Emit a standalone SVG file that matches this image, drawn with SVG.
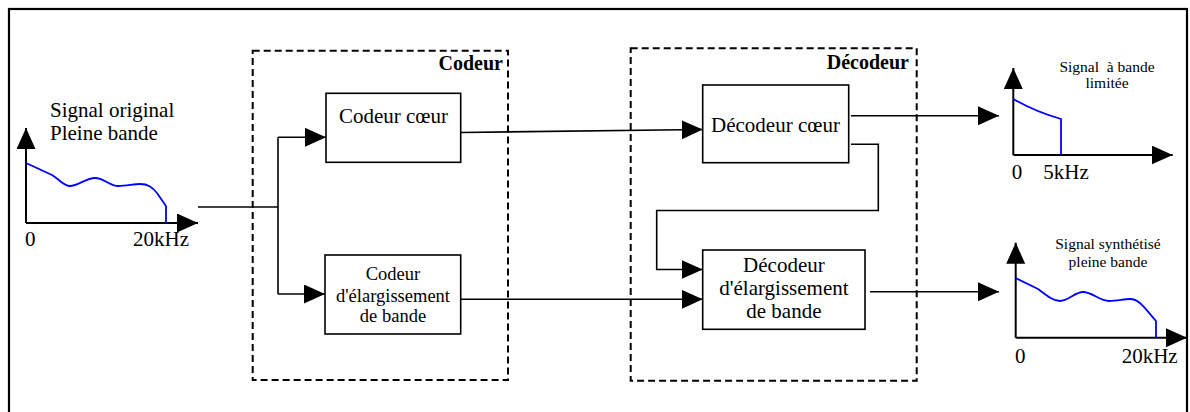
<svg xmlns="http://www.w3.org/2000/svg" width="1190" height="412" viewBox="0 0 1190 412" font-family="'Liberation Serif', 'DejaVu Serif', serif">
<style>
text{font-family:'Liberation Serif','DejaVu Serif',serif;fill:#000}
.t{font-size:21px}
.s{font-size:18.5px}
.xs{font-size:15.5px}
.b{font-size:20px;font-weight:bold}
.box{fill:#fff;stroke:#000;stroke-width:1.6}
.grp{fill:none;stroke:#000;stroke-width:2;stroke-dasharray:7,4}
.ln{fill:none;stroke:#000;stroke-width:1.6}
.ax{fill:none;stroke:#000;stroke-width:2}
.sig{fill:none;stroke:#0000ff;stroke-width:1.8}
</style>
<defs>
<marker id="ar" markerUnits="userSpaceOnUse" markerWidth="22" markerHeight="20" refX="21" refY="9.5" orient="auto">
<path d="M0,0 L21,9.5 L0,19 z" fill="#000"/>
</marker>
</defs>
<rect x="9" y="9" width="1178" height="420" fill="none" stroke="#000" stroke-width="2.2"/>

<g id="spectre-entree">
<line class="ax" x1="26" y1="223" x2="26" y2="128" marker-end="url(#ar)"/>
<line class="ax" x1="26" y1="223" x2="198" y2="223" marker-end="url(#ar)"/>
<path class="sig" d="M26,163 L52,175 C60,180 64,186 70,186 C78,186 86,178 95,178 C104,178 110,186 118,186 C126,186 134,184 140,184 C148,184 152,187 157,193 L166,206 L166,223"/>
<text class="t" x="50" y="117">Signal original</text>
<text class="t" x="50" y="140">Pleine bande</text>
<text class="t" x="25" y="246">0</text>
<text class="t" x="133" y="246">20kHz</text>
</g>

<g id="codeur">
<rect class="grp" x="252.7" y="50.7" width="255.3" height="329.3"/>
<text class="b" x="503" y="70" text-anchor="end">Codeur</text>
</g>
<g id="codeur-coeur">
<rect class="box" x="326" y="93.3" width="134.7" height="69"/>
<text class="t" x="393.5" y="123" text-anchor="middle">Codeur cœur</text>
</g>
<g id="codeur-elargissement">
<rect class="box" x="325" y="255" width="135.7" height="79"/>
<text class="s" x="393" y="280" text-anchor="middle">Codeur</text>
<text class="s" x="393" y="301.5" text-anchor="middle">d'élargissement</text>
<text class="s" x="393" y="322" text-anchor="middle">de bande</text>
</g>

<g id="decodeur">
<rect class="grp" x="630.7" y="48.3" width="286" height="332.4"/>
<text class="b" x="909" y="69" text-anchor="end">Décodeur</text>
</g>
<g id="decodeur-coeur">
<rect class="box" x="702.7" y="85" width="146" height="77.7"/>
<text class="t" x="775.5" y="131.5" text-anchor="middle">Décodeur cœur</text>
</g>
<g id="decodeur-elargissement">
<rect class="box" x="702.7" y="250" width="162.3" height="79.3"/>
<text class="t" x="783.9" y="271.7" text-anchor="middle">Décodeur</text>
<text class="t" x="783.9" y="295" text-anchor="middle">d'élargissement</text>
<text class="t" x="783.9" y="318.3" text-anchor="middle">de bande</text>
</g>

<g id="spectre-limite">
<line class="ax" x1="1013.3" y1="155" x2="1013.3" y2="68" marker-end="url(#ar)"/>
<line class="ax" x1="1013.3" y1="155" x2="1172.7" y2="155" marker-end="url(#ar)"/>
<path class="sig" d="M1013.3,99 Q1036,112 1061,119 L1061,155"/>
<text class="xs" x="1107" y="71.7" text-anchor="middle" style="white-space:pre">Signal  à bande</text>
<text class="xs" x="1107" y="88.3" text-anchor="middle">limitée</text>
<text class="t" x="1011.7" y="179.3">0</text>
<text class="t" x="1043.3" y="179.3">5kHz</text>
</g>

<g id="spectre-synthetise">
<line class="ax" x1="1015.7" y1="337.7" x2="1015.7" y2="242.7" marker-end="url(#ar)"/>
<line class="ax" x1="1015.7" y1="337.7" x2="1187" y2="337.7" marker-end="url(#ar)"/>
<path class="sig" d="M1015.7,278 L1038,289 C1046,295 1053,301 1060,301 C1068,301 1075,292 1083,292 C1092,292 1100,301 1109,301 C1117,301 1124,299 1130,299 C1140,299 1146,310 1156,321 L1156,337.7"/>
<text class="xs" x="1108" y="249.3" text-anchor="middle">Signal synthétisé</text>
<text class="xs" x="1108" y="266.7" text-anchor="middle">pleine bande</text>
<text class="t" x="1015" y="362.7">0</text>
<text class="t" x="1121.7" y="362.7">20kHz</text>
</g>

<g id="connecteurs">
<polyline class="ln" points="198,207 278,207"/>
<polyline class="ln" points="278,137.3 278,294"/>
<line class="ln" x1="278" y1="137.3" x2="326" y2="137.3" marker-end="url(#ar)"/>
<line class="ln" x1="278" y1="294" x2="325" y2="294" marker-end="url(#ar)"/>
<line class="ln" x1="461" y1="132.5" x2="702.7" y2="129.5" marker-end="url(#ar)"/>
<line class="ln" x1="461" y1="299.3" x2="702.7" y2="299.3" marker-end="url(#ar)"/>
<line class="ln" x1="851" y1="115.7" x2="999" y2="115.7" marker-end="url(#ar)"/>
<polyline class="ln" points="851,144.3 878.3,144.3 878.3,210.5 656.7,210.5 656.7,269.5 702.7,269.5" marker-end="url(#ar)"/>
<line class="ln" x1="870" y1="291.7" x2="999" y2="291.7" marker-end="url(#ar)"/>
</g>
</svg>
